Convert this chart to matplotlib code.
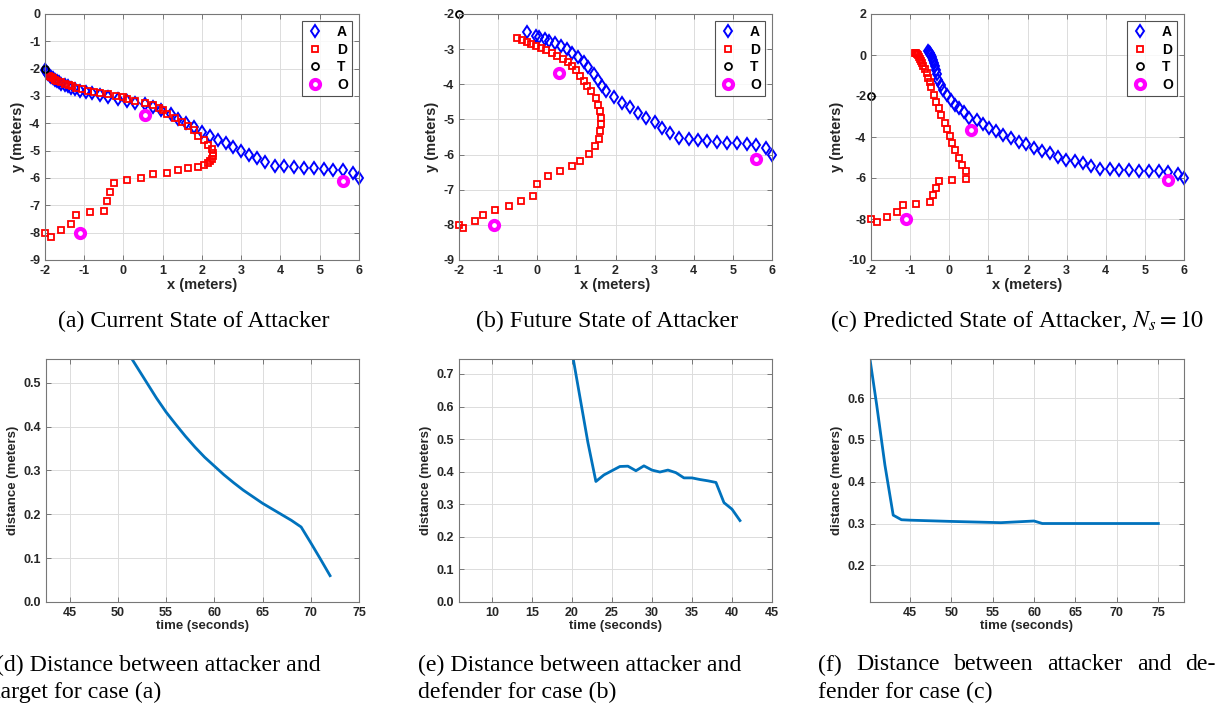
import matplotlib
matplotlib.use("Agg")
import matplotlib.pyplot as plt
import numpy as np

plt.rcParams['font.family'] = ['Liberation Sans', 'DejaVu Sans']
plt.rcParams['axes.unicode_minus'] = False

# ---- data ----
# (a) current state of attacker
a_ax = [-2.0, -1.98, -1.95, -1.92, -1.88, -1.84, -1.8, -1.75, -1.7, -1.65, -1.58, -1.5, -1.42, -1.33,
        -1.24, -1.1, -0.95, -0.8, -0.6, -0.4, -0.15, 0.1, 0.3, 0.55, 0.75, 0.95, 1.2, 1.4, 1.6, 1.8,
        2.0, 2.2, 2.4, 2.6, 2.8, 3.0, 3.2, 3.4, 3.6, 3.85, 4.1, 4.35, 4.6, 4.85, 5.1, 5.35, 5.6, 5.85, 6.0]
a_ay = [-2.05, -2.1, -2.15, -2.2, -2.25, -2.3, -2.35, -2.4, -2.45, -2.5, -2.55, -2.6, -2.65, -2.7,
        -2.73, -2.8, -2.85, -2.9, -2.97, -3.05, -3.12, -3.2, -3.25, -3.3, -3.4, -3.5, -3.65, -3.85, -4.0, -4.15,
        -4.3, -4.45, -4.6, -4.73, -4.87, -5.0, -5.15, -5.28, -5.43, -5.55, -5.57, -5.6, -5.63, -5.65, -5.67, -5.7, -5.7, -5.8, -6.0]
a_dx = [-1.9, -1.85, -1.8, -1.75, -1.7, -1.6, -1.5, -1.4, -1.3, -1.2, -1.05, -0.9, -0.75, -0.6, -0.4,
        -0.2, 0.0, 0.1, 0.3, 0.55, 0.75, 0.9, 1.0, 1.1, 1.3, 1.5, 1.65, 1.8, 1.9, 2.05, 2.15, 2.25, 2.27,
        2.27, 2.25, 2.2, 2.15, 2.05, 1.9, 1.65, 1.4, 1.1, 0.75, 0.45, 0.1, -0.25, -0.35, -0.42, -0.5,
        -0.85, -1.2, -1.35, -1.6, -1.85, -2.0]
a_dy = [-2.25, -2.3, -2.35, -2.4, -2.45, -2.5, -2.55, -2.6, -2.65, -2.7, -2.75, -2.8, -2.85, -2.9, -2.93,
        -3.0, -3.05, -3.1, -3.18, -3.25, -3.33, -3.45, -3.5, -3.65, -3.8, -3.95, -4.1, -4.25, -4.45, -4.6, -4.8, -4.95, -5.08,
        -5.2, -5.3, -5.38, -5.45, -5.52, -5.58, -5.65, -5.72, -5.8, -5.85, -6.0, -6.08, -6.17, -6.5, -6.83, -7.2,
        -7.25, -7.37, -7.68, -7.9, -8.15, -8.0]

# (b) future state of attacker
b_ax = [-0.27, -0.02, 0.05, 0.2, 0.3, 0.45, 0.6, 0.75, 0.88, 1.05, 1.2, 1.3, 1.45, 1.55, 1.65, 1.75,
        1.97, 2.17, 2.37, 2.58, 2.78, 3.0, 3.2, 3.4, 3.62, 3.87, 4.1, 4.35, 4.6, 4.85, 5.1, 5.35, 5.6, 5.85, 6.0]
b_ay = [-2.5, -2.62, -2.65, -2.72, -2.78, -2.83, -2.92, -3.0, -3.1, -3.22, -3.38, -3.5, -3.7, -3.88, -4.05, -4.2,
        -4.37, -4.52, -4.66, -4.83, -4.95, -5.08, -5.25, -5.4, -5.52, -5.55, -5.58, -5.62, -5.63, -5.66, -5.68, -5.7, -5.72, -5.82, -6.0]
b_dx = [-0.52, -0.38, -0.27, -0.15, -0.02, 0.1, 0.22, 0.37, 0.5, 0.65, 0.78, 0.9, 1.0, 1.1, 1.2, 1.28,
        1.38, 1.5, 1.55, 1.6, 1.63, 1.63, 1.6, 1.57, 1.48, 1.33, 1.1, 0.88, 0.57, 0.27, 0.0, -0.1, -0.42,
        -0.72, -1.07, -1.38, -1.6, -1.9, -2.0]
b_dy = [-2.68, -2.75, -2.8, -2.85, -2.9, -2.97, -3.03, -3.1, -3.2, -3.27, -3.37, -3.47, -3.6, -3.75, -3.9, -4.05,
        -4.2, -4.4, -4.58, -4.77, -4.97, -5.13, -5.33, -5.55, -5.75, -5.97, -6.17, -6.32, -6.48, -6.62, -6.83, -7.18, -7.32,
        -7.45, -7.58, -7.73, -7.9, -8.1, -8.0]

# (c) predicted state of attacker, Ns = 10
c_ax = [-0.55, -0.52, -0.5, -0.48, -0.46, -0.44, -0.42, -0.4, -0.37, -0.35, -0.32, -0.28, -0.22, -0.15,
        -0.05, 0.05, 0.15, 0.25, 0.37, 0.5, 0.72, 0.87, 1.02, 1.2, 1.38, 1.58, 1.77, 1.96, 2.17, 2.38, 2.57,
        2.78, 2.98, 3.22, 3.42, 3.62, 3.86, 4.1, 4.35, 4.6, 4.84, 5.1, 5.35, 5.6, 5.85, 6.0]
c_ay = [0.2, 0.15, 0.1, 0.05, 0.0, -0.1, -0.25, -0.4, -0.55, -0.75, -0.95, -1.2, -1.45, -1.7,
        -1.95, -2.2, -2.42, -2.6, -2.8, -3.05, -3.15, -3.35, -3.55, -3.72, -3.88, -4.05, -4.22, -4.35, -4.52, -4.68, -4.8,
        -4.97, -5.1, -5.15, -5.28, -5.42, -5.55, -5.58, -5.6, -5.63, -5.66, -5.68, -5.68, -5.72, -5.82, -6.0]
c_dx = [-0.88, -0.85, -0.82, -0.8, -0.78, -0.75, -0.72, -0.7, -0.67, -0.63, -0.58, -0.55, -0.5, -0.47,
        -0.4, -0.33, -0.27, -0.2, -0.12, -0.05, 0.02, 0.08, 0.15, 0.25, 0.32, 0.42, 0.43, 0.08, -0.25,
        -0.33, -0.42, -0.5, -0.85, -1.18, -1.33, -1.6, -1.85, -2.0]
c_dy = [0.12, 0.1, 0.05, 0.0, -0.1, -0.2, -0.3, -0.4, -0.55, -0.7, -0.9, -1.1, -1.3, -1.55,
        -1.95, -2.3, -2.6, -2.95, -3.3, -3.62, -3.95, -4.3, -4.65, -5.0, -5.35, -5.68, -6.05, -6.08, -6.15,
        -6.5, -6.85, -7.17, -7.25, -7.33, -7.65, -7.9, -8.15, -8.0]

target = (-2.0, -2.0)
obs_x = [0.55, 5.6, -1.1]
obs_y = [-3.68, -6.12, -8.0]

# distances
d_t = [51, 52, 53, 54, 55, 56, 57, 58, 59, 60, 61, 62, 63, 64, 65, 66, 67, 68, 69, 70, 71, 72]
d_v = [0.57, 0.535, 0.5, 0.465, 0.433, 0.405, 0.378, 0.353, 0.33, 0.31, 0.29, 0.272, 0.255, 0.24,
       0.225, 0.212, 0.199, 0.186, 0.171, 0.135, 0.098, 0.06]
e_t = [20, 21, 22, 23, 24, 25, 26, 27, 28, 29, 30, 31, 32, 33, 34, 35, 36, 37, 38, 39, 40, 41]
e_v = [0.77, 0.63, 0.49, 0.37, 0.39, 0.403, 0.416, 0.417, 0.403, 0.418, 0.405, 0.399, 0.405, 0.397,
       0.381, 0.381, 0.376, 0.372, 0.367, 0.305, 0.285, 0.25]
f_t = [40, 41, 42, 43, 44, 45, 50, 56, 60, 61, 65, 70, 75]
f_v = [0.72, 0.585, 0.44, 0.32, 0.309, 0.308, 0.305, 0.302, 0.306, 0.3, 0.3, 0.3, 0.3]

W, H = 1224, 703
fig = plt.figure(figsize=(W / 100, H / 100), dpi=100)

def box(l, t, r, b):
    return fig.add_axes([l / W, 1 - b / H, (r - l) / W, (b - t) / H])

def style(ax):
    ax.grid(True, color='#dcdcdc', linewidth=0.7)
    ax.set_axisbelow(True)
    for s in ax.spines.values():
        s.set_color('#777777')
        s.set_linewidth(0.8)
    ax.tick_params(direction='in', top=True, right=True, length=3.5, width=0.7,
                   colors='#777777', labelcolor='#262626', labelsize=9)
    for lab in ax.get_xticklabels() + ax.get_yticklabels():
        lab.set_fontweight('bold')

def traj(ax, ax_x, ax_y, dx, dy, ylim, yticks):
    ax.plot(ax_x, ax_y, 'd', ms=6.3, mfc='none', mec='blue', mew=1.4, label='A', clip_on=False)
    ax.plot(dx, dy, 's', ms=4.6, mfc='none', mec='red', mew=1.3, label='D', clip_on=False)
    ax.plot(*target, 'o', ms=5, mfc='none', mec='black', mew=1.3, label='T', clip_on=False)
    ax.plot(obs_x, obs_y, 'o', ms=6.5, mfc='white', mec='magenta', mew=3, label='O')
    ax.set_xlim(-2, 6)
    ax.set_ylim(*ylim)
    ax.set_xticks(range(-2, 7))
    ax.set_yticks(yticks)
    ax.set_xlabel('x (meters)', fontsize=10.5, fontweight='bold', color='#262626', labelpad=1)
    ax.set_ylabel('y (meters)', fontsize=10.5, fontweight='bold', color='#262626', labelpad=3)
    leg = ax.legend(loc='upper right', fontsize=10, handlelength=1.2, handletextpad=1.0,
                    borderaxespad=0.5, fancybox=False, edgecolor='#262626', labelspacing=0.25,
                    borderpad=0.3)
    leg.get_frame().set_linewidth(0.8)
    for t in leg.get_texts():
        t.set_fontweight('bold')
    style(ax)

ax1 = box(45, 14, 359, 260)
traj(ax1, a_ax, a_ay, a_dx, a_dy, (-9, 0), range(-9, 1))
ax2 = box(459, 14, 772, 260)
traj(ax2, b_ax, b_ay, b_dx, b_dy, (-9, -2), range(-9, -1))
ax3 = box(871, 14, 1184, 260)
traj(ax3, c_ax, c_ay, c_dx, c_dy, (-10, 2), range(-10, 3, 2))

def dist(ax, t, v, xlim, ylim, xticks, yticks):
    ax.plot(t, v, color='#0072BD', lw=2)
    ax.set_xlim(*xlim)
    ax.set_ylim(*ylim)
    ax.set_xticks(xticks)
    ax.set_yticks(yticks)
    ax.set_xlabel('time (seconds)', fontsize=9.5, fontweight='bold', color='#262626', labelpad=1)
    ax.set_ylabel('distance (meters)', fontsize=9.5, fontweight='bold', color='#262626', labelpad=3)
    style(ax)

ax4 = box(46, 359, 359, 602)
dist(ax4, d_t, d_v, (42.55, 75), (0, 0.554), range(45, 76, 5), np.arange(0, 0.51, 0.1))
ax5 = box(459, 359, 772, 602)
dist(ax5, e_t, e_v, (5.9, 45), (0, 0.746), range(10, 46, 5), np.arange(0, 0.71, 0.1))
ax6 = box(870, 359, 1184, 602)
dist(ax6, f_t, f_v, (40.2, 78.1), (0.112, 0.694), range(45, 76, 5), np.arange(0.2, 0.61, 0.1))

# captions
cap = dict(family='Liberation Serif', fontsize=17.2, fontweight='normal', va='center')
fig.text(194 / W, 1 - 321 / H, '(a) Current State of Attacker', ha='center', **cap)
fig.text(607 / W, 1 - 321 / H, '(b) Future State of Attacker', ha='center', **cap)
fig.text(1017 / W, 1 - 321 / H, r'(c) Predicted State of Attacker, $N_s = 10$', ha='center',
         math_fontfamily='stix', **cap)

fig.text(-4 / W, 1 - 665 / H, '(d) Distance between attacker and', ha='left', **cap)
fig.text(-6 / W, 1 - 692 / H, 'target for case (a)', ha='left', **cap)
fig.text(418 / W, 1 - 665 / H, '(e) Distance between attacker and', ha='left', **cap)
fig.text(418 / W, 1 - 692 / H, 'defender for case (b)', ha='left', **cap)

# justified first line of caption (f)
f_words = ['(f)', 'Distance', 'between', 'attacker', 'and', 'de-']
x0, x1 = 818, 1216
renderer = fig.canvas.get_renderer()
texts = [fig.text(0, 1 - 665 / H, w, ha='left', **cap) for w in f_words]
widths = [t.get_window_extent(renderer).width for t in texts]
gap = (x1 - x0 - sum(widths)) / (len(f_words) - 1)
x = x0
for t, w in zip(texts, widths):
    t.set_x(x / W)
    x += w + gap
fig.text(818 / W, 1 - 692 / H, 'fender for case (c)', ha='left', **cap)

fig.savefig('out.png', dpi=100)
